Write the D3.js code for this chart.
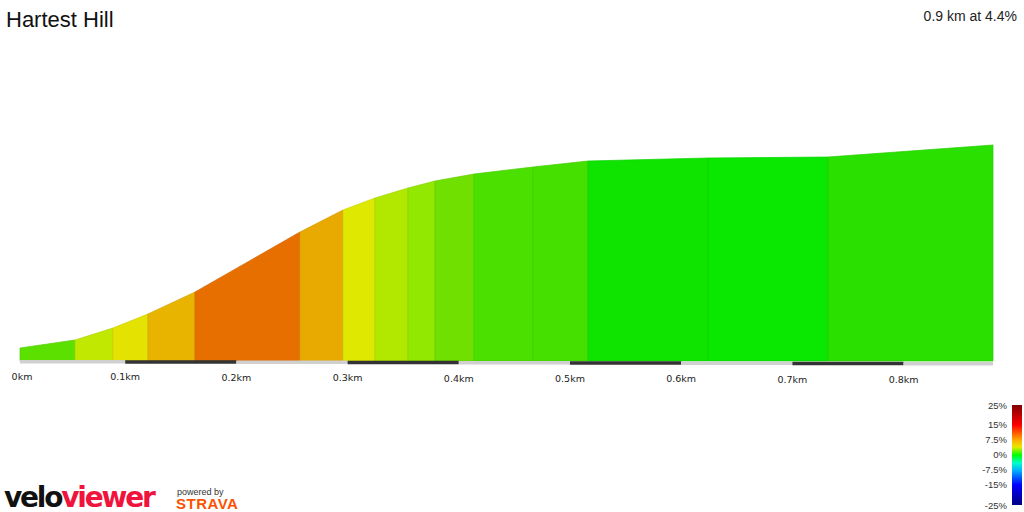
<!DOCTYPE html><html><head><meta charset="utf-8"><script src="https://cdn.jsdelivr.net/npm/d3@7"></script>
<style>body{margin:0;background:#fff}svg{display:block;font-family:Arial,"Liberation Sans",sans-serif}</style></head><body>
<script>
const distKm=[0.0054,0.0549,0.0890,0.1205,0.1628,0.2572,0.2959,0.3246,0.3543,0.3786,0.4137,0.4667,0.5162,0.6241,0.7320,0.8804];
const elevM=[62.6,64.2,66.6,69.4,73.8,85.8,90.2,92.6,94.6,96.0,97.4,98.8,100.0,100.6,100.8,103.2];
const xTicks=[0,0.1,0.2,0.3,0.4,0.5,0.6,0.7,0.8];
const legendTicks=[25,15,7.5,0,-7.5,-15,-25];
const title="Hartest Hill", summary="0.9 km at 4.4%";

const W=1024,H=512;
const svg=d3.select("body").append("svg").attr("width",W).attr("height",H);
const x=d3.scaleLinear().domain([0,0.8804]).range([14,993]);
const y=d3.scaleLinear().domain([60,103.2]).range([361,145]);
const col=d3.scaleLinear().domain([0,0.6,1.6,2.5,4,5.7,6.7,7.2,8.5,9.5,10.5,11.5,12.6,25])
 .range(["#08e800","#10e400","#28e000","#48e000","#70e000","#90e800","#b0e800","#c8e800","#e2e800","#e4d800","#e8b000","#e8a800","#e87000","#800000"]);

const segs=d3.range(distKm.length-1).map(i=>({x0:distKm[i],x1:distKm[i+1],e0:elevM[i],e1:elevM[i+1],g:(elevM[i+1]-elevM[i])/((distKm[i+1]-distKm[i])*1000)*100}));
const base=y.range()[0];
svg.selectAll("path.seg").data(segs).join("path")
 .attr("d",s=>`M${x(s.x0)},${base}L${x(s.x0)},${y(s.e0)}L${x(s.x1)},${y(s.e1)}L${x(s.x1)},${base}Z`)
 .attr("fill",s=>col(s.g)).attr("stroke",s=>d3.color(col(s.g)).darker(0.25)).attr("stroke-width",0.7);

const start=distKm[0], end=distKm[distKm.length-1];
const bars=d3.range(xTicks.length).map(i=>({a:Math.max(xTicks[i],start),b:i<xTicks.length-1?xTicks[i+1]:end,i}));
svg.selectAll("rect.bar").data(bars).join("rect")
 .attr("x",d=>x(d.a)).attr("width",d=>x(d.b)-x(d.a)).attr("y",d=>360+d.i*0.25).attr("height",3.5)
 .attr("fill",d=>d.i%2?"#333":"#d0d0d0");

svg.selectAll("text.xt").data(xTicks).join("text")
 .attr("x",d=>d===0?x(start)+2:x(d)).attr("y",(d,i)=>380+i*0.4).attr("text-anchor","middle")
 .attr("fill","#222").attr("font-family","Verdana,DejaVu Sans,sans-serif").attr("font-size",9.5)
 .text(d=>d===0?"0km":d.toFixed(1)+"km");

svg.append("text").attr("x",6).attr("y",27).attr("font-size",22).attr("fill","#111").text(title);
svg.append("text").attr("x",1017).attr("y",21).attr("text-anchor","end").attr("font-size",14).attr("fill","#222").text(summary);

const defs=svg.append("defs");
const lg=defs.append("linearGradient").attr("id","lg").attr("x1",0).attr("x2",0).attr("y1",0).attr("y2",1);
[["0%","#800000"],["20%","#ff0000"],["35%","#ffaa00"],["42%","#e8e800"],["50%","#00ff00"],["58%","#00ffcc"],["66%","#00aaff"],["80%","#0000ff"],["100%","#000080"]]
 .forEach(([o,c])=>lg.append("stop").attr("offset",o).attr("stop-color",c));
svg.append("rect").attr("x",1012).attr("y",405).attr("width",10).attr("height",100).attr("fill","url(#lg)");
const lpos={25:405,15:424,7.5:439,0:454,"-7.5":469,"-15":484,"-25":505};
svg.selectAll("text.lt").data(legendTicks).join("text")
 .attr("x",1007).attr("y",d=>lpos[d]+3.5).attr("text-anchor","end").attr("font-size",9.5).attr("fill","#333")
 .text(d=>d+"%");

const t=svg.append("text").attr("x",4).attr("y",507).attr("font-size",28).attr("font-weight",900).attr("letter-spacing",-2.2).attr("font-family","'DejaVu Sans',Arial,sans-serif");
t.append("tspan").attr("fill","#111").text("velo");
t.append("tspan").attr("fill","#f0133c").text("viewer");
svg.append("text").attr("x",177).attr("y",495).attr("font-size",9).attr("fill","#333").text("powered by");
svg.append("text").attr("x",176).attr("y",509).attr("font-size",15).attr("font-weight",900).attr("fill","#fc5200").attr("letter-spacing",0.5).text("STRAVA");
</script></body></html>
